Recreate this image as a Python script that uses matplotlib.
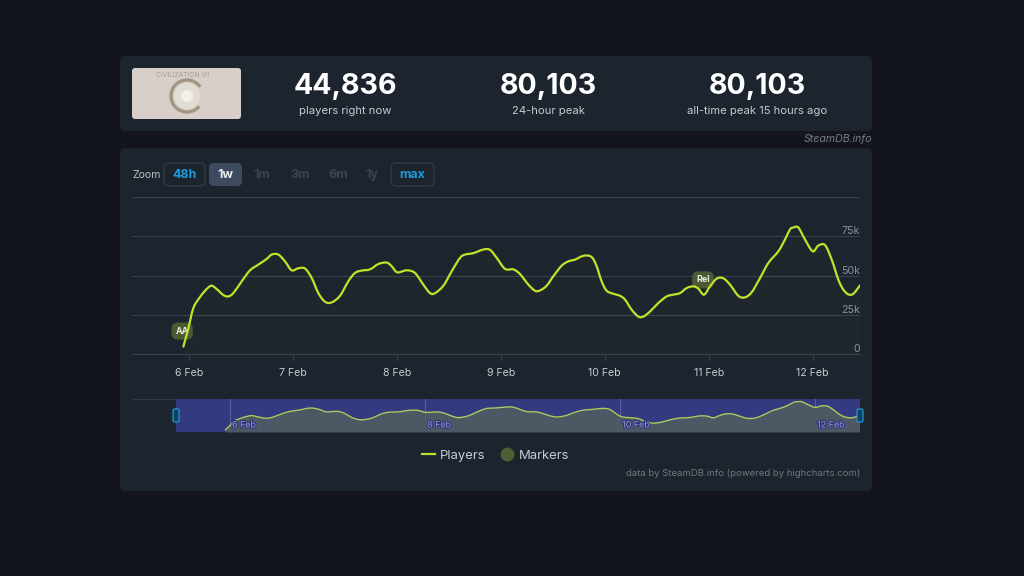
import matplotlib
matplotlib.use("Agg")
import matplotlib.pyplot as plt
import matplotlib.patheffects as pe
from matplotlib.lines import Line2D
from matplotlib.path import Path
from matplotlib.patches import FancyBboxPatch, Circle, Arc, PathPatch

plt.rcParams['font.family'] = ['Inter', 'DejaVu Sans']

# day of february, players in thousands
days = [5.949, 5.997, 6.045, 6.109, 6.173, 6.221, 6.269, 6.333, 6.381, 6.429, 6.510, 6.590,
        6.670, 6.750, 6.798, 6.862, 6.926, 6.990, 7.054, 7.119, 7.183, 7.247, 7.311, 7.375,
        7.455, 7.535, 7.599, 7.663, 7.744, 7.824, 7.904, 7.952, 8.006, 8.096, 8.176, 8.256,
        8.321, 8.369, 8.449, 8.529, 8.609, 8.657, 8.737, 8.833, 8.897, 8.962, 9.042, 9.122,
        9.186, 9.266, 9.330, 9.378, 9.442, 9.506, 9.587, 9.651, 9.715, 9.795, 9.869, 9.917,
        9.971, 10.019, 10.083, 10.147, 10.196, 10.260, 10.324, 10.372, 10.436, 10.516, 10.596,
        10.660, 10.724, 10.788, 10.853, 10.901, 10.955, 11.013, 11.077, 11.141, 11.205, 11.285,
        11.349, 11.413, 11.494, 11.574, 11.670, 11.734, 11.782, 11.814, 11.862, 11.926, 12.0,
        12.054, 12.119, 12.183, 12.247, 12.295, 12.343, 12.391, 12.455]
players = [4.9, 16.6, 29.4, 36.4, 41.5, 43.6, 41.5, 37.7, 36.8, 38.9, 46.4, 53.4,
           57.0, 60.6, 63.4, 63.4, 59.1, 53.4, 54.7, 54.5, 48.5, 38.9, 33.4, 33.0,
           37.2, 46.4, 51.7, 53.2, 54.0, 57.4, 58.3, 56.0, 52.1, 53.4, 51.7, 44.3,
           38.9, 38.9, 43.6, 52.8, 61.3, 63.4, 64.3, 66.6, 66.4, 61.3, 54.3, 54.0,
           51.0, 44.3, 40.4, 40.6, 43.6, 49.6, 56.4, 59.1, 60.2, 62.6, 62.1, 57.0,
           46.4, 40.4, 38.5, 37.2, 34.7, 28.3, 24.0, 24.0, 27.2, 32.6, 36.8,
           37.9, 38.9, 42.1, 43.2, 41.7, 37.9, 43.2, 48.1, 48.3, 44.3, 37.2,
           36.2, 39.4, 48.5, 58.1, 65.5, 73.0, 79.4, 80.6, 80.6, 73.0, 65.5,
           69.1, 69.4, 60.2, 47.4, 41.1, 38.1, 38.5, 43.8]

marker_names = ['AA', 'Rel']
marker_days = [5.937, 10.945]
marker_players = [14.8, 47.3]

main_ticks = [6, 7, 8, 9, 10, 11, 12]
main_labels = ['6 Feb', '7 Feb', '8 Feb', '9 Feb', '10 Feb', '11 Feb', '12 Feb']
nav_ticks = [6, 8, 10, 12]
nav_labels = ['6 Feb', '8 Feb', '10 Feb', '12 Feb']
y_ticks = [0, 25, 50, 75, 100]
y_labels = ['0', '25k', '50k', '75k', '']

stat_values = ['44,836', '80,103', '80,103']
stat_labels = ['players right now', '24-hour peak', 'all-time peak 15 hours ago']

W, H = 1024, 576
BG = '#12151d'
PANEL = '#1c242e'
GRID = '#38424f'
LINE = '#c2e22a'
MARK = '#4f5e34'


def px_axes(x0, y0, x1, y1):
    # y0 is the top edge in image pixels
    return fig.add_axes([x0 / W, 1 - y1 / H, (x1 - x0) / W, (y1 - y0) / H])


def box(target, x0, y0, x1, y1, r, **kw):
    target.add_patch(FancyBboxPatch((x0 + r, y0 + r), x1 - x0 - 2 * r, y1 - y0 - 2 * r,
                                    boxstyle=f"round,pad={r},rounding_size={r}", **kw))


def smooth_path(xs, ys):
    # the chart uses a spline, so bend the stroke between the read points
    verts = [(xs[0], ys[0])]
    codes = [Path.MOVETO]
    n = len(xs)
    for i in range(n - 1):
        a, b = max(i - 1, 0), min(i + 2, n - 1)
        verts.append((xs[i] + (xs[i + 1] - xs[a]) / 6, ys[i] + (ys[i + 1] - ys[a]) / 6))
        verts.append((xs[i + 1] - (xs[b] - xs[i]) / 6, ys[i + 1] - (ys[b] - ys[i]) / 6))
        verts.append((xs[i + 1], ys[i + 1]))
        codes += [Path.CURVE4, Path.CURVE4, Path.CURVE4]
    return Path(verts, codes)


fig = plt.figure(figsize=(W / 100, H / 100), dpi=100, facecolor=BG)

bg = fig.add_axes([0, 0, 1, 1])
bg.set_xlim(0, W)
bg.set_ylim(H, 0)
bg.axis('off')

box(bg, 120, 56, 872, 131, 6, fc=PANEL, ec='none')
box(bg, 120, 148, 872, 491, 6, fc=PANEL, ec='none')

# game thumbnail
box(bg, 132, 68, 241, 119, 3, fc='#d8cfca', ec='none')
bg.add_patch(Circle((187, 96), 13, fc='#e2dcd6', ec='none'))
bg.add_patch(Circle((187, 96), 6, fc='#f2eeea', ec='none'))
bg.add_patch(Arc((187, 96), 32, 32, theta1=40, theta2=325, ec='#a3957f', lw=2.4))
bg.text(183, 75, 'CIVILIZATION VII', color='#a89e92', fontsize=4.8, ha='center', va='center')

for cx, val, lab in zip([345, 548, 757], stat_values, stat_labels):
    bg.text(cx, 86.5, val, color='white', fontsize=20.6, fontweight='bold', ha='center', va='center')
    bg.text(cx, 111.5, lab, color='#c4cad2', fontsize=8.1, ha='center', va='center')

bg.text(872, 139.5, 'SteamDB.info', color='#767c85', fontsize=7.6, style='italic', ha='right', va='center')

# range selector
bg.text(132, 175, 'Zoom', color='#b8bec6', fontsize=7.6, ha='left', va='center')
box(bg, 164, 163, 205, 186, 5, fc=PANEL, ec='#303b4a', lw=1)
box(bg, 209, 163, 242, 186, 5, fc='#3d4a60', ec='none')
box(bg, 391, 163, 434, 186, 5, fc=PANEL, ec='#303b4a', lw=1)
bg.text(184.5, 175, '48h', color='#1e9ad6', fontsize=9, fontweight='bold', ha='center', va='center')
bg.text(225.5, 175, '1w', color='#e8ecf0', fontsize=9, fontweight='bold', ha='center', va='center')
bg.text(412.5, 175, 'max', color='#1e9ad6', fontsize=9, fontweight='bold', ha='center', va='center')
for cx, lab in zip([262, 300, 338, 372], ['1m', '3m', '6m', '1y']):
    bg.text(cx, 175, lab, color='#3a4454', fontsize=9, fontweight='bold', ha='center', va='center')

# main chart
ax = px_axes(132, 197, 860, 354.3)
ax.set_facecolor('none')
ax.fill_between(days, players, color=LINE, alpha=0.02, lw=0)
ax.add_patch(PathPatch(smooth_path(days, players), fc='none', ec=LINE, lw=1.6, capstyle='round',
                       joinstyle='round', zorder=3))
ax.set_xlim(5.455, 12.455)
ax.set_ylim(0, 100)
ax.set_xticks(main_ticks)
ax.set_xticklabels(main_labels)
ax.set_yticks(y_ticks)
ax.set_yticklabels(y_labels, ha='right', va='bottom')
ax.yaxis.tick_right()
ax.tick_params(axis='x', colors='#c4cad2', labelsize=7.6, length=5, width=0.8, color=GRID, pad=5)
ax.tick_params(axis='y', colors='#8a919b', labelsize=7.6, length=0, pad=0)
ax.grid(axis='y', color=GRID, lw=0.8)
ax.set_axisbelow(True)
for side in ['top', 'left', 'right']:
    ax.spines[side].set_visible(False)
ax.spines['bottom'].set_color(GRID)
ax.spines['bottom'].set_linewidth(0.8)

for name, d, p in zip(marker_names, marker_days, marker_players):
    ax.text(d, p, name, color='#e8ecdc', fontsize=6.4, fontweight='bold', ha='center', va='center', zorder=2.5,
            bbox=dict(boxstyle='round,pad=0.45,rounding_size=0.7', fc=MARK, ec='none', alpha=0.95))

# navigator
bg.plot([132, 860], [398.5, 398.5], color='#2e3845', lw=0.8)
nav = px_axes(176, 399, 860, 432)
nav.set_facecolor('#343a80')
nav.fill_between(days, players, color='#4d5864', lw=0)
nav.add_patch(PathPatch(smooth_path(days, players), fc='none', ec='#a9cc5a', lw=1.0, zorder=3))
nav.set_xlim(5.446, 12.46)
nav.set_ylim(0, 88)
nav.set_yticks([])
nav.set_xticks([])
for spine in nav.spines.values():
    spine.set_visible(False)
for t, lab in zip(nav_ticks, nav_labels):
    nav.axvline(t, color='#5a62a0', lw=0.7, zorder=0)
    nav.annotate(lab, (t, 0), xytext=(2, 7), textcoords='offset pixels', color='#949ad4', fontsize=6.4,
                 va='center', ha='left', zorder=5,
                 path_effects=[pe.withStroke(linewidth=1.5, foreground='#2f3578')])

top = fig.add_axes([0, 0, 1, 1], zorder=10)
top.set_xlim(0, W)
top.set_ylim(H, 0)
top.axis('off')
for hx in [176, 860]:
    box(top, hx - 3, 409, hx + 3, 422, 1.5, fc='#17405c', ec='#1e9ad6', lw=0.9)

handles = [Line2D([], [], color=LINE, lw=1.6),
           Line2D([], [], color=MARK, marker='o', ms=9, lw=0)]
fig.legend(handles, ['Players', 'Markers'], loc='center', bbox_to_anchor=(495.5 / W, 1 - 455.5 / H), ncol=2,
           frameon=False, fontsize=9.4, labelcolor='#c5ccd5', handlelength=1.0, handletextpad=0.35,
           columnspacing=1.2)

fig.text(860 / W, 1 - 473 / H, 'data by SteamDB.info (powered by highcharts.com)', color='#70777f',
         fontsize=6.85, ha='right', va='center')

fig.savefig('out.png', dpi=100, facecolor=BG)
